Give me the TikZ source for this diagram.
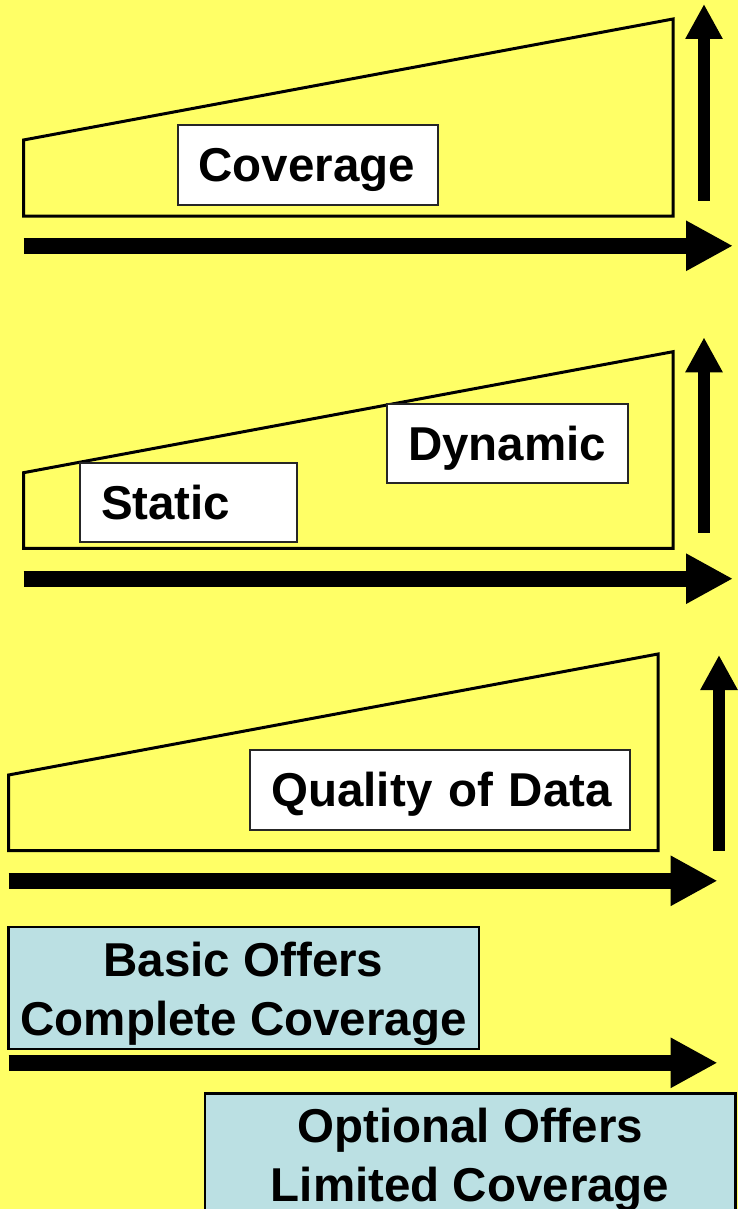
\documentclass[tikz,border=0pt]{standalone}
\usepackage{fontspec}
\setmainfont{Liberation Sans}
\usetikzlibrary{arrows.meta}
\definecolor{bgyellow}{HTML}{FFFF66}
\definecolor{lightblue}{HTML}{BBE0E3}
\begin{document}
\begin{tikzpicture}[x=1pt,y=-1pt,
  bigfont/.style={font=\fontsize{47.5}{58.5}\selectfont\bfseries},
  trap/.style={draw=black,line width=3pt,line join=miter},
  lbl/.style={bigfont,draw=black!85,fill=white,line width=2pt,anchor=north west,
    inner xsep=21pt,inner ysep=0pt,align=left,text height=34pt,text depth=0pt},
  offer/.style={bigfont,draw=black,fill=lightblue,line width=2.5pt,anchor=north west,
    inner sep=0pt,align=center,text height=94.5pt,text depth=0pt},
  harrow/.style={line width=16pt,-{Triangle[length=47pt,width=47pt]}},
  varrow/.style={line width=12pt,-{Triangle[length=35pt,width=35pt]}}]
\useasboundingbox (0,0) rectangle (738,1209);
\fill[bgyellow] (0,0) rectangle (738,1209);

% panel 1
\draw[trap] (23.5,216) -- (23.5,140) -- (673,19) -- (673,216) -- cycle;
\node[lbl,text width=218pt,minimum height=80pt] (cov) at (176.5,124) {\mbox{Coverage}};
\coordinate (v1s) at (704,200.7); \coordinate (v1e) at (704,4);
\draw[varrow] (v1s) -- (v1e);
\coordinate (h1s) at (23.5,245.8); \coordinate (h1e) at (733,245.8);
\draw[harrow] (h1s) -- (h1e);

% panel 2
\draw[trap] (23.5,548.3) -- (23.5,472.7) -- (673,351.7) -- (673,548.3) -- cycle;
\node[lbl,text width=174.5pt,minimum height=79.3pt] (sta) at (79,461.7) {\mbox{Static}};
\node[lbl,text width=199pt,minimum height=79.6pt] (dyn) at (386,402.7) {\mbox{Dynamic}};
\coordinate (v2s) at (704,532.7); \coordinate (v2e) at (704,337.3);
\draw[varrow] (v2s) -- (v2e);
\coordinate (h2s) at (23.5,578.7); \coordinate (h2e) at (733,578.7);
\draw[harrow] (h2s) -- (h2e);

% panel 3
\draw[trap] (8.5,850.7) -- (8.5,775) -- (658,654) -- (658,850.7) -- cycle;
\node[lbl,text width=338pt,minimum height=80.3pt] (qual) at (249.4,748.7) {\mbox{Quality of Data}};
\coordinate (v3s) at (719,850.7); \coordinate (v3e) at (719,655);
\draw[varrow] (v3s) -- (v3e);
\coordinate (h3s) at (8.5,880.8); \coordinate (h3e) at (717.6,880.8);
\draw[harrow] (h3s) -- (h3e);

% panel 4
\node[offer,minimum width=470.6pt,minimum height=122pt] (basic) at (7,925.7) {Basic Offers\\Complete Coverage};
\coordinate (h4s) at (8.5,1062.8); \coordinate (h4e) at (717.6,1062.8);
\draw[harrow] (h4s) -- (h4e);
\node[offer,minimum width=530.2pt,minimum height=121pt] (opt) at (203.8,1092) {Optional Offers\\Limited Coverage};
\end{tikzpicture}
\end{document}
